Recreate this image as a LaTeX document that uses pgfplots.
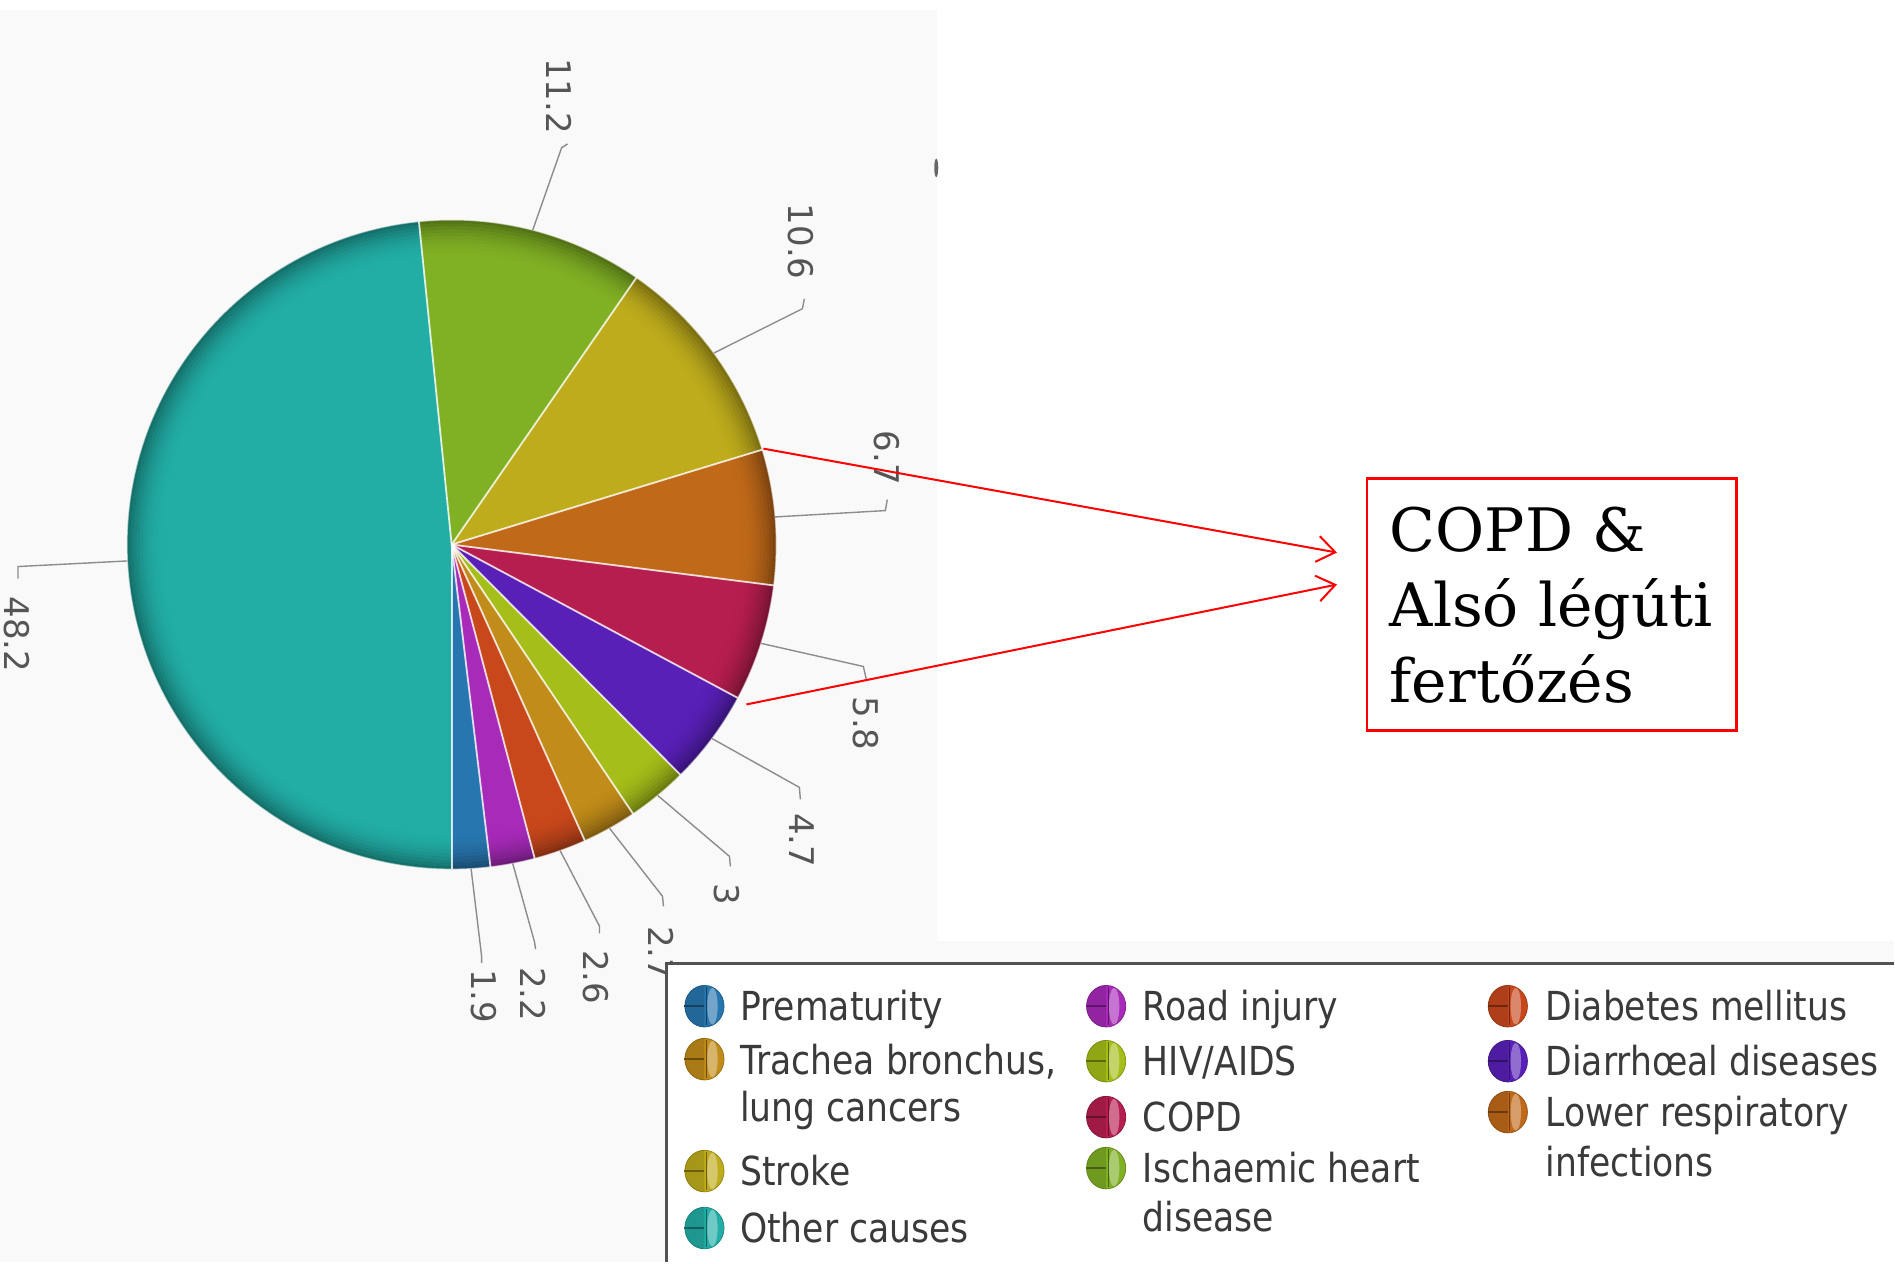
\documentclass[border=0pt]{standalone}
\usepackage{pgfplots}
\pgfplotsset{compat=1.18}
\usepackage{fontspec}
\usetikzlibrary{arrows.meta}
\setmainfont{DejaVu Sans}
\newfontfamily\legfont{DejaVu Sans}[FakeStretch=0.865]
\newfontfamily\boxfont{DejaVu Serif}

\definecolor{cPrem}{HTML}{2876AF}
\definecolor{cRoad}{HTML}{A72AB9}
\definecolor{cDiab}{HTML}{C8481C}
\definecolor{cTrach}{HTML}{C18C19}
\definecolor{cHIV}{HTML}{A5BE19}
\definecolor{cDiarr}{HTML}{5920B8}
\definecolor{cCOPD}{HTML}{B71E50}
\definecolor{cLower}{HTML}{C06919}
\definecolor{cStroke}{HTML}{BEAC1C}
\definecolor{cIsch}{HTML}{80B024}
\definecolor{cOther}{HTML}{22ADA5}
\definecolor{bggray}{HTML}{F9F9F9}
\definecolor{labgray}{HTML}{555555}
\definecolor{leggray}{HTML}{3A3A3A}

% shares (percent), counter-clockwise from the bottom
\def\pievalues{1.9,2.2,2.6,2.7,3,4.7,5.8,6.7,10.6,11.2,48.2}
\def\pietotal{99.6}
\xdef\cumsum{0}
\foreach \v [count=\i] in \pievalues {%
  \pgfmathsetmacro\pst{-90+\cumsum/\pietotal*360}%
  \pgfmathsetmacro\pnc{\cumsum+\v}%
  \xdef\cumsum{\pnc}%
  \pgfmathsetmacro\pen{-90+\cumsum/\pietotal*360}%
  \pgfmathsetmacro\pmd{(\pst+\pen)/2}%
  \expandafter\xdef\csname pieS\i\endcsname{\pst}%
  \expandafter\xdef\csname pieE\i\endcsname{\pen}%
  \expandafter\xdef\csname pieM\i\endcsname{\pmd}%
}
\def\R{81.25pt}

\begin{document}
\begin{tikzpicture}
\begin{axis}[
  width=473.75pt, height=315.75pt, scale only axis,
  xmin=0, xmax=1895, ymin=0, ymax=1263, y dir=reverse,
  hide axis, clip=false,
]
\pgfplotsextra{
% backgrounds
\fill[white] (axis cs:0,0) rectangle (axis cs:1895,1263);
\fill[bggray] (axis cs:0,10) rectangle (axis cs:938,1263);
\fill[bggray] (axis cs:938,942) rectangle (axis cs:1895,964);
\fill[black!60] (axis cs:937,168) ellipse[x radius=0.5pt, y radius=2.3pt];

% slices
\foreach \ii/\col in {1/cPrem,2/cRoad,3/cDiab,4/cTrach,5/cHIV,6/cDiarr,
                   7/cCOPD,8/cLower,9/cStroke,10/cIsch,11/cOther}{
  \fill[\col] (axis cs:452,545) -- ++(\csname pieS\ii\endcsname:\R)
    arc[start angle=\csname pieS\ii\endcsname, end angle=\csname pieE\ii\endcsname, radius=\R] -- cycle;
}
% rim shading
\foreach \kk [evaluate=\kk as \rr using 80.85-0.8*\kk,
             evaluate=\kk as \op using 0.34*(1-\kk/11)^2] in {0,...,10}{
  \draw[black, opacity=\op, line width=0.8pt] (axis cs:452,545) circle[radius=\rr pt];
}
\draw[white, opacity=0.6, line width=0.35pt] (axis cs:452,545) circle[radius=\R];
% separators
\foreach \ii in {1,...,11}{
  \draw[white, opacity=0.8, line width=0.45pt] (axis cs:452,545) -- ++(\csname pieS\ii\endcsname:\R);
}

% leader lines and value labels
\foreach \ii/\ex/\ey/\hx/\hy/\tx/\ty/\lab in {
   1/482/957/482/964/484/997/1.9,
   2/535/943/536/950/534/995/2.2,
   3/600/927/600/934/596/978/2.6,
   4/663/897/664/907/662/954/2.7,
   5/730/857/731/867/727/895/3,
   6/800/788/801/800/803/841/4.7,
   7/864/667/867/680/867/724/5.8,
   8/886/511/888/500/888/458/6.7,
   9/803/309/805/299/801/242/10.6,
  10/562/148/568/144/560/96/11.2,
  11/18/567/18/579/17/635/48.2}{
  \draw[black!45, line width=0.35pt] (axis cs:452,545) ++(\csname pieM\ii\endcsname:\R)
    -- (axis cs:\ex,\ey) -- (axis cs:\hx,\hy);
  \node[rotate=-90, text=labgray, inner sep=0pt,
        font=\fontsize{8.5}{10}\selectfont] at (axis cs:\tx,\ty) {\lab};
}

% legend
\fill[white] (axis cs:667,964) rectangle (axis cs:1895,1263);
\draw[black!68, line width=0.75pt] (axis cs:667,1263) -- (axis cs:667,964) -- (axis cs:1895,964);
\foreach \lx/\ly/\col in {705/1007/cPrem, 705/1060/cTrach, 705/1172/cStroke, 705/1229/cOther,
                      1107/1007/cRoad, 1107/1062/cHIV, 1107/1118/cCOPD, 1107/1169/cIsch,
                      1509/1007/cDiab, 1509/1062/cDiarr, 1509/1113/cLower}{
  \fill[\col, draw=\col!80!black, line width=0.2pt] (axis cs:\lx,\ly) ellipse[x radius=4.9pt, y radius=5.2pt];
  \fill[black, opacity=0.12] (axis cs:\lx,\ly) ++(90:5.2pt) arc[start angle=90, end angle=270, x radius=4.9pt, y radius=5.2pt] -- cycle;
  \fill[white, opacity=0.35] (axis cs:{\lx+8},\ly) ellipse[x radius=1.3pt, y radius=4.6pt];
  \draw[\col!55!black, line width=0.4pt] (axis cs:{\lx-20},\ly) -- (axis cs:\lx,\ly);
  \draw[\col!55!black, line width=0.3pt] (axis cs:{\lx+2},{\ly-19}) -- (axis cs:{\lx+2},{\ly+19});
}
\foreach \lx/\ly/\txt in {740/1021/Prematurity, 740/1075/{Trachea bronchus,}, 740/1122/lung cancers,
                      740/1186/Stroke, 740/1243/Other causes,
                      1143/1021/Road injury, 1143/1076/{HIV/AIDS}, 1143/1132/COPD,
                      1143/1183/Ischaemic heart, 1143/1232/disease,
                      1546/1021/Diabetes mellitus, 1546/1076/Diarrhœal diseases,
                      1546/1127/Lower respiratory, 1546/1177/infections}{
  \node[anchor=base west, inner sep=0pt, text=leggray,
        font=\legfont\fontsize{10}{12}\selectfont] at (axis cs:\lx,\ly) {\txt};
}

% annotation
\draw[red, line width=0.5pt, -{Straight Barb[length=4.5pt,width=6.5pt]}]
  (axis cs:764,449) -- (axis cs:1338,553);
\draw[red, line width=0.5pt, -{Straight Barb[length=4.5pt,width=6.5pt]}]
  (axis cs:747,705) -- (axis cs:1338,585);
\draw[red, line width=0.6pt] (axis cs:1368,479) rectangle (axis cs:1738,731);
\node[anchor=base west, inner sep=0pt, font=\boxfont\fontsize{15}{19}\selectfont]
  at (axis cs:1390,552) {COPD \&};
\node[anchor=base west, inner sep=0pt, font=\boxfont\fontsize{15}{19}\selectfont]
  at (axis cs:1390,627) {Alsó légúti};
\node[anchor=base west, inner sep=0pt, font=\boxfont\fontsize{15}{19}\selectfont]
  at (axis cs:1390,703) {fertőzés};
}
\end{axis}
\end{tikzpicture}
\end{document}
